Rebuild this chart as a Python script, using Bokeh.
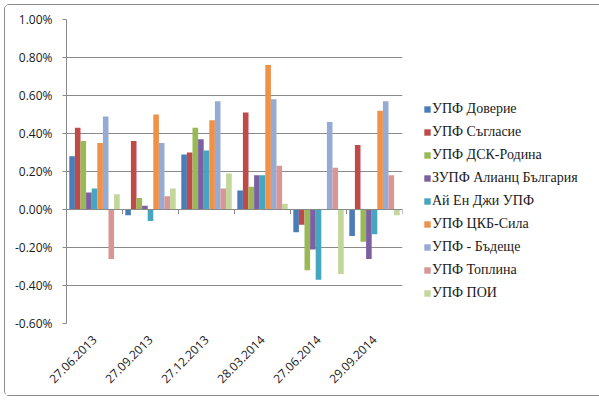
import math
from bokeh.plotting import figure
from bokeh.models import (FactorRange, Range1d, FixedTicker, PrintfTickFormatter,
                          Legend, LegendItem, Span, ColumnDataSource)
from bokeh.transform import dodge
from bokeh.embed import file_html
from bokeh.resources import INLINE

dates = ["27.06.2013", "27.09.2013", "27.12.2013", "28.03.2014", "27.06.2014", "29.09.2014"]

series_names = ["УПФ Доверие", "УПФ Съгласие", "УПФ ДСК-Родина", "ЗУПФ Алианц България",
                "Ай Ен Джи УПФ", "УПФ ЦКБ-Сила", "УПФ - Бъдеще", "УПФ Топлина", "УПФ ПОИ"]

doverie  = [0.28, -0.03, 0.29, 0.10, -0.12, -0.14]
saglasie = [0.43, 0.36, 0.30, 0.51, -0.08, 0.34]
dsk      = [0.36, 0.06, 0.43, 0.12, -0.32, -0.17]
allianz  = [0.09, 0.02, 0.37, 0.18, -0.21, -0.26]
ing      = [0.11, -0.06, 0.31, 0.18, -0.37, -0.13]
ccb      = [0.35, 0.50, 0.47, 0.76, 0.00, 0.52]
badeshte = [0.49, 0.35, 0.57, 0.58, 0.46, 0.57]
toplina  = [-0.26, 0.07, 0.11, 0.23, 0.22, 0.18]
poi      = [0.08, 0.11, 0.19, 0.03, -0.34, -0.03]

y_ticks = [-0.6, -0.4, -0.2, 0.0, 0.2, 0.4, 0.6, 0.8, 1.0]

colors = ["#4A7DB8", "#BE4B48", "#98B954", "#7D60A0", "#46A5BF",
          "#F0914A", "#95ABD3", "#D99694", "#C3D69B"]

all_series = [doverie, saglasie, dsk, allianz, ing, ccb, badeshte, toplina, poi]

p = figure(x_range=FactorRange(*dates), y_range=Range1d(-0.6, 1.0),
           frame_width=336, frame_height=304,
           min_border_left=61, min_border_right=193, min_border_top=14, min_border_bottom=72,
           output_backend="svg", toolbar_location=None)
p.outline_line_color = None
p.background_fill_color = "white"
p.border_fill_color = "white"
p.styles = {"border": "1px solid #8c8c8c", "border-radius": "5px", "margin": "4px"}

data = {"date": dates}
for i, s in enumerate(all_series):
    data["s%d" % i] = s
source = ColumnDataSource(data)

# grid
p.xgrid.grid_line_color = None
p.ygrid.ticker = FixedTicker(ticks=y_ticks)
p.ygrid.grid_line_color = "#8a8a8a"
p.ygrid.grid_line_width = 1

items = []
bw = 0.1
for i, name in enumerate(series_names):
    r = p.vbar(x=dodge("date", (i - 4) * bw, range=p.x_range), top="s%d" % i, bottom=0,
               width=bw, source=source, fill_color=colors[i], line_color=None)
    items.append(LegendItem(label=name, renderers=[r]))

# zero axis line with boundary tick marks
p.add_layout(Span(location=0, dimension="width", line_color="#8a8a8a", line_width=1))
p.segment(x0=dodge("date", 0.5, range=p.x_range), y0=0,
          x1=dodge("date", 0.5, range=p.x_range), y1=-0.025,
          source=source, line_color="#8a8a8a", line_width=1)

# y axis
p.yaxis.ticker = FixedTicker(ticks=y_ticks)
p.yaxis.formatter = PrintfTickFormatter(format="%.2f%%")
p.yaxis.axis_line_color = "#8a8a8a"
p.yaxis.major_tick_line_color = "#8a8a8a"
p.yaxis.major_tick_out = 4
p.yaxis.major_tick_in = 0
p.yaxis.minor_tick_line_color = None
p.yaxis.major_label_standoff = 10
p.yaxis.major_label_text_font = "Open Sans"
p.yaxis.major_label_text_font_size = "12px"
p.yaxis.major_label_text_color = "#1a1a1a"

# x axis
p.xaxis.axis_line_color = None
p.xaxis.major_tick_line_color = None
p.xaxis.major_tick_out = 0
p.xaxis.major_label_orientation = math.pi / 4
p.xaxis.major_label_standoff = 14
p.xaxis.major_label_text_font = "Open Sans"
p.xaxis.major_label_text_font_size = "12px"
p.xaxis.major_label_text_color = "#1a1a1a"

legend = Legend(items=items, location=(21, 19), orientation="vertical",
                label_text_font="Liberation Serif", label_text_font_size="14px",
                label_text_color="#1a1a1a",
                glyph_width=8, glyph_height=8, label_height=23, spacing=0,
                padding=0, margin=0, label_standoff=1,
                border_line_color=None, background_fill_alpha=0)
p.add_layout(legend, "right")

open("out.html", "w").write(file_html(p, INLINE))
